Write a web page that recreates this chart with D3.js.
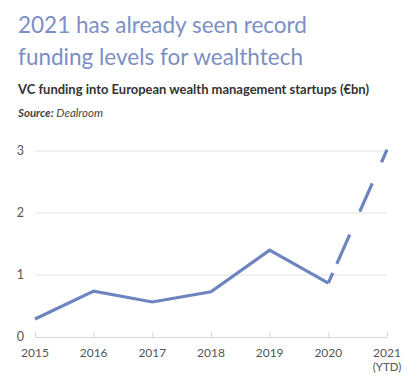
<!DOCTYPE html>
<html>
<head>
<meta charset="utf-8">
<script src="https://cdn.jsdelivr.net/npm/d3@7"></script>
<style>
  html, body { margin: 0; padding: 0; background: #fff; }
  svg { display: block; }
  text { font-family: Lato, "Open Sans", sans-serif; }
</style>
</head>
<body>
<div id="chart"></div>
<script>
const titleLines = ["2021 has already seen record", "funding levels for wealthtech"];
const subtitle = "VC funding into European wealth management startups (€bn)";
const sourceLabel = "Source:";
const sourceName = "Dealroom";
const years = ["2015", "2016", "2017", "2018", "2019", "2020", "2021"];
const yearSubLabels = ["", "", "", "", "", "", "(YTD)"];
const funding = [0.29, 0.74, 0.565, 0.73, 1.40, 0.87, 3.02];
const yTicks = [0, 1, 2, 3];

const W = 417, H = 384;
const svg = d3.select("#chart").append("svg").attr("width", W).attr("height", H);

function fit(sel, target) {
  const n = sel.node();
  const fs = parseFloat(sel.attr("font-size"));
  const w = n.getComputedTextLength();
  sel.attr("font-size", (fs * target / w).toFixed(2));
}

// Title
const titleColor = "#7b8fc4";
const t1 = svg.append("text").attr("x", 18).attr("y", 33).attr("font-size", 24)
  .attr("fill", titleColor).text(titleLines[0]);
fit(t1, 289);
const t2 = svg.append("text").attr("x", 18).attr("y", 65).attr("font-size", 24)
  .attr("fill", titleColor).text(titleLines[1]);
fit(t2, 285);

const st = svg.append("text").attr("x", 18).attr("y", 94).attr("font-size", 14)
  .attr("font-weight", 700).attr("fill", "#333").text(subtitle);
fit(st, 351);

const src = svg.append("text").attr("x", 18).attr("y", 117).attr("font-size", 11.5)
  .attr("font-style", "italic").attr("fill", "#444");
src.append("tspan").attr("font-weight", 700).text(sourceLabel);
src.append("tspan").text(" " + sourceName);
fit(src, 85);

// Scales
const x = d3.scalePoint().domain(years).range([35, 387]);
const y = d3.scaleLinear().domain([0, 3]).range([337, 151]);

// Grid
const g = svg.append("g");
g.selectAll("line.grid").data(yTicks.filter(d => d > 0)).join("line")
  .attr("class", "grid")
  .attr("x1", 35).attr("x2", 387)
  .attr("y1", d => y(d)).attr("y2", d => y(d))
  .attr("stroke", "#e3e3e3").attr("stroke-width", 1.2);

// X axis
const xAxis = svg.append("g").attr("transform", `translate(0,${y(0)})`)
  .call(d3.axisBottom(x).tickSizeInner(-5).tickSizeOuter(0).tickFormat(""));
xAxis.select(".domain").attr("stroke", "#d6d6d6").attr("stroke-width", 1.2);
xAxis.selectAll(".tick line").attr("stroke", "#d6d6d6");

svg.append("g").selectAll("text").data(years).join("text")
  .attr("x", d => x(d)).attr("y", 357)
  .attr("text-anchor", "middle").attr("font-size", 12).attr("fill", "#555")
  .text(d => d);
svg.append("g").selectAll("text").data(years.filter((d, i) => yearSubLabels[i])).join("text")
  .attr("x", d => x(d)).attr("y", 371)
  .attr("text-anchor", "middle").attr("font-size", 11.5).attr("fill", "#555")
  .text(d => yearSubLabels[years.indexOf(d)]);

// Y axis labels
svg.append("g").selectAll("text").data(yTicks).join("text")
  .attr("x", 24).attr("y", d => y(d)).attr("dy", "0.35em")
  .attr("text-anchor", "end").attr("font-size", 12.5).attr("fill", "#555")
  .text(d => d);

// Line
const lineColor = "#6d84bf";
const pts = years.map((yr, i) => [x(yr), y(funding[i])]);
const line = d3.line();
svg.append("path").attr("d", line(pts.slice(0, 6)))
  .attr("fill", "none").attr("stroke", lineColor).attr("stroke-width", 3.2)
  .attr("stroke-linejoin", "miter");
svg.append("path").attr("d", line(pts.slice(5)))
  .attr("fill", "none").attr("stroke", lineColor).attr("stroke-width", 3.2)
  .attr("stroke-dasharray", "11 10 32 25 31 23 30");
</script>
</body>
</html>
